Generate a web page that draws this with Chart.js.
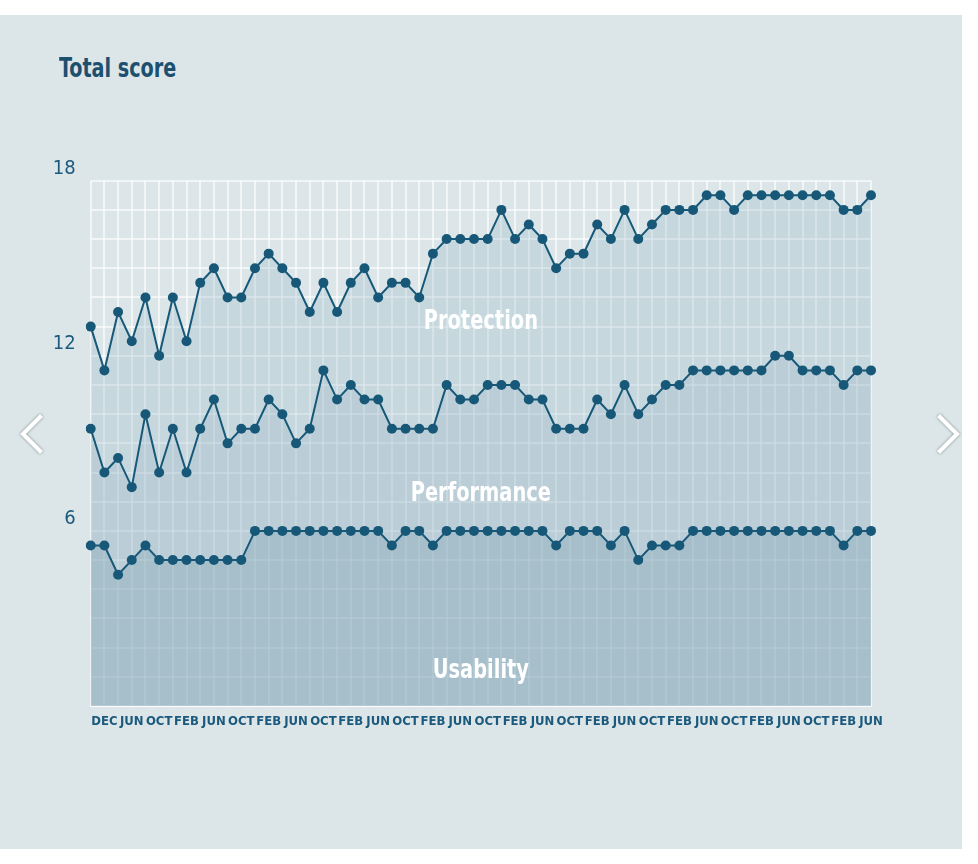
<!DOCTYPE html>
<html lang="en">
<head>
    <meta charset="UTF-8">
    <title>Total score</title>
    <script src="https://cdn.jsdelivr.net/npm/chart.js"></script>
    <style>
        body {
            margin: 0;
            background: #ffffff;
            font-family: 'DejaVu Sans Condensed', sans-serif;
        }
        .panel {
            position: absolute;
            left: 0;
            top: 15px;
            width: 962px;
            height: 834px;
            background: #dce6e9;
        }
        .title {
            position: absolute;
            left: 59px;
            top: 53px;
            font-size: 26px;
            font-weight: bold;
            color: #1d4f6f;
            transform: scaleX(0.82);
            transform-origin: left top;
        }
        .chart-box {
            position: absolute;
            left: 0;
            top: 150px;
            width: 962px;
            height: 600px;
        }
        .arrow {
            position: absolute;
            width: 24px;
            height: 24px;
            border: 0 solid #ffffff;
            filter: drop-shadow(0 0 1.5px rgba(0, 0, 0, 0.45));
        }
        .arrow.prev {
            left: 26px;
            top: 420px;
            border-left-width: 4px;
            border-bottom-width: 4px;
            transform: rotate(45deg);
        }
        .arrow.next {
            left: 926px;
            top: 420px;
            border-right-width: 4px;
            border-top-width: 4px;
            transform: rotate(45deg);
        }
    </style>
</head>
<body>
    <div class="panel"></div>
    <div class="title">Total score</div>
    <div class="chart-box"><canvas id="chart"></canvas></div>
    <div class="arrow prev"></div>
    <div class="arrow next"></div>
    <script>
        // one label per test round, month name on every other round
        const months = ['', 'DEC', '', 'JUN', '', 'OCT', '', 'FEB', '', 'JUN', '', 'OCT', '', 'FEB', '', 'JUN', '', 'OCT', '', 'FEB',
            '', 'JUN', '', 'OCT', '', 'FEB', '', 'JUN', '', 'OCT', '', 'FEB', '', 'JUN', '', 'OCT', '', 'FEB', '', 'JUN',
            '', 'OCT', '', 'FEB', '', 'JUN', '', 'OCT', '', 'FEB', '', 'JUN', '', 'OCT', '', 'FEB', '', 'JUN'];

        // scores per category (stacked to give the total)
        const usability = [5.5, 5.5, 4.5, 5, 5.5, 5, 5, 5, 5, 5, 5, 5, 6, 6, 6, 6, 6, 6, 6, 6,
            6, 6, 5.5, 6, 6, 5.5, 6, 6, 6, 6, 6, 6, 6, 6, 5.5, 6, 6, 6, 5.5, 6,
            5, 5.5, 5.5, 5.5, 6, 6, 6, 6, 6, 6, 6, 6, 6, 6, 6, 5.5, 6, 6];
        const performance = [4, 2.5, 4, 2.5, 4.5, 3, 4.5, 3, 4.5, 5.5, 4, 4.5, 3.5, 4.5, 4, 3, 3.5, 5.5, 4.5, 5,
            4.5, 4.5, 4, 3.5, 3.5, 4, 5, 4.5, 4.5, 5, 5, 5, 4.5, 4.5, 4, 3.5, 3.5, 4.5, 4.5, 5,
            5, 5, 5.5, 5.5, 5.5, 5.5, 5.5, 5.5, 5.5, 5.5, 6, 6, 5.5, 5.5, 5.5, 5.5, 5.5, 5.5];
        const protection = [3.5, 3.5, 5, 5, 4, 4, 4.5, 4.5, 5, 4.5, 5, 4.5, 5.5, 5, 5, 5.5, 4, 3, 3, 3.5,
            4.5, 3.5, 5, 5, 4.5, 6, 5, 5.5, 5.5, 5, 6, 5, 6, 5.5, 5.5, 6, 6, 6, 6, 6,
            6, 6, 6, 6, 5.5, 6, 6, 5.5, 6, 6, 5.5, 5.5, 6, 6, 6, 6, 5.5, 6];

        const areaNames = ['Protection', 'Performance', 'Usability'];

        const ink = '#175777';
        const fontFamily = "'DejaVu Sans Condensed', sans-serif";

        // white names written across the stacked bands
        const areaLabels = {
            id: 'areaLabels',
            afterDatasetsDraw(chart, args, opts) {
                const ctx = chart.ctx;
                const area = chart.chartArea;
                const y = chart.scales.y;
                const cx = (area.left + area.right) / 2;
                areaNames.forEach((name, i) => {
                    ctx.save();
                    ctx.translate(cx, y.getPixelForValue(opts.at[i]));
                    ctx.scale(opts.squeeze, 1);
                    ctx.fillStyle = '#ffffff';
                    ctx.font = opts.font;
                    ctx.textAlign = 'center';
                    ctx.textBaseline = 'middle';
                    ctx.fillText(name, 0, 0);
                    ctx.restore();
                });
            }
        };

        function series(label, data, fill, color) {
            return {
                label: label,
                data: data,
                fill: fill,
                backgroundColor: color,
                borderColor: ink,
                borderWidth: 2,
                pointRadius: 5,
                pointHoverRadius: 5,
                pointBackgroundColor: ink,
                pointBorderWidth: 0,
                tension: 0
            };
        }

        Chart.defaults.font.family = fontFamily;

        new Chart(document.getElementById('chart'), {
            type: 'line',
            data: {
                labels: months,
                datasets: [
                    series('Usability', usability, 'origin', 'rgba(130, 165, 182, 0.6)'),
                    series('Performance', performance, '-1', 'rgba(140, 175, 192, 0.42)'),
                    series('Protection', protection, '-1', 'rgba(150, 185, 200, 0.3)')
                ]
            },
            options: {
                responsive: true,
                maintainAspectRatio: false,
                animation: false,
                layout: {
                    padding: { top: 30.7, right: 91, left: 0, bottom: 0 }
                },
                plugins: {
                    legend: { display: false },
                    tooltip: { enabled: false },
                    areaLabels: {
                        font: 'bold 27px ' + fontFamily,
                        squeeze: 0.8,
                        at: [13.15, 7.25, 1.2]
                    }
                },
                scales: {
                    x: {
                        offset: false,
                        afterFit: scale => { scale.height = 44; },
                        grid: {
                            offset: false,
                            color: 'rgba(255, 255, 255, 0.6)',
                            lineWidth: 2,
                            drawTicks: false
                        },
                        border: { color: 'rgba(255, 255, 255, 0.8)', width: 2 },
                        ticks: {
                            autoSkip: false,
                            maxRotation: 0,
                            minRotation: 0,
                            padding: 8,
                            color: '#1b5a7c',
                            font: { size: 13, weight: 'bold' }
                        }
                    },
                    y: {
                        stacked: true,
                        min: 0,
                        max: 18,
                        afterFit: scale => { scale.width = 90.7; },
                        grid: {
                            color: 'rgba(255, 255, 255, 0.6)',
                            lineWidth: 2,
                            drawTicks: false
                        },
                        border: { display: false },
                        ticks: {
                            stepSize: 1,
                            padding: 15,
                            labelOffset: -12,
                            color: '#1b5a7c',
                            font: { size: 20 },
                            callback: v => (v > 0 && v % 6 === 0) ? v : ''
                        }
                    }
                }
            },
            plugins: [areaLabels]
        });
    </script>
</body>
</html>
